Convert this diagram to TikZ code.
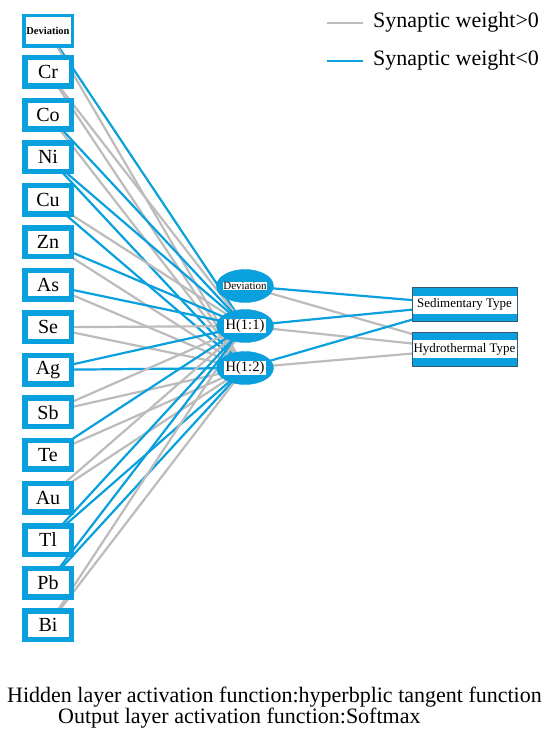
\documentclass[tikz,border=0pt]{standalone}
\usepackage{fontspec}
\setmainfont{Liberation Serif}
\usetikzlibrary{shapes.geometric,backgrounds}
\definecolor{nnblue}{RGB}{10,160,222}
\definecolor{nngray}{RGB}{188,188,188}
\definecolor{nnedge}{RGB}{50,90,120}
\begin{document}
\begin{tikzpicture}[x=1pt,y=-1pt,
  elembox/.style={draw=nnblue,line width=5.5pt,fill=white,minimum width=46.5pt,minimum height=28.5pt,inner sep=0pt,font=\fontsize{20}{20}\selectfont},
  devbox/.style={draw=nnblue,line width=3.5pt,fill=white,minimum width=48.5pt,minimum height=30.5pt,inner sep=0pt,font=\fontsize{10.5}{10.5}\selectfont\bfseries},
  hidnode/.style={ellipse,fill=nnblue,draw=nnblue,minimum width=57pt,minimum height=33pt,inner sep=0pt},
  outbox/.style={rectangle,fill=nnblue,draw=nnedge,line width=0.7pt,minimum width=105pt,minimum height=34pt,inner sep=0pt,font=\fontsize{13}{13}\selectfont,
     path picture={\fill[white] ([yshift=-9pt]path picture bounding box.west) rectangle ([yshift=9pt]path picture bounding box.east);}},
  wpos/.style={draw=nngray,line width=2.2pt},
  wneg/.style={draw=nnblue,line width=2.2pt},
  txt/.style={inner sep=0pt,font=\fontsize{22}{22}\selectfont}
]
\useasboundingbox (0,0) rectangle (550,738);

% input layer
\node[devbox] (in0) at (48,31) {Deviation};
\foreach \n/\t [count=\i] in {Cr/Cr,Co/Co,Ni/Ni,Cu/Cu,Zn/Zn,As/As,Se/Se,Ag/Ag,Sb/Sb,Te/Te,Au/Au,Tl/Tl,Pb/Pb,Bi/Bi}
  \node[elembox] (\n) at (48,{72+42.55*(\i-1)}) {\t};

% hidden layer
\newcommand{\hidlabel}[2]{\makebox[0pt]{\setlength{\fboxsep}{0.8pt}\colorbox{white}{\makebox[#1]{#2}}}}
\node[hidnode] (h0) at (245,286) {\hidlabel{43pt}{\fontsize{11}{11}\selectfont Deviation}};
\node[hidnode] (h1) at (245,326) {\hidlabel{41pt}{\fontsize{14.5}{14.5}\selectfont H(1:1)}};
\node[hidnode] (h2) at (245,368) {\hidlabel{41pt}{\fontsize{14.5}{14.5}\selectfont H(1:2)}};

% output layer
\node[outbox] (sed) at (464.5,304.5) {Sedimentary Type};
\node[outbox] (hyd) at (464.5,349) {Hydrothermal Type};

% connectors
\begin{pgfonlayer}{background}
\fill[white] (0,0) rectangle (550,738);
\foreach \a/\sa/\sb in {in0/wneg/wpos,Cr/wpos/wpos,Co/wneg/wpos,Ni/wneg/wneg,Cu/wpos/wneg,Zn/wneg/wpos,As/wneg/wpos,Se/wpos/wpos,Ag/wneg/wneg,Sb/wpos/wpos,Te/wneg/wpos,Au/wpos/wpos,Tl/wneg/wneg,Pb/wneg/wneg,Bi/wpos/wpos}{
  \draw[\sa] (\a.center) -- (h1.center);
  \draw[\sb] (\a.center) -- (h2.center);
}
\foreach \h in {h0,h1,h2}{
  \draw[wneg] (\h.center) -- (sed.center);
  \draw[wpos] (\h.center) -- (hyd.center);
}
\end{pgfonlayer}

% legend
\coordinate (lga) at (327,23);
\coordinate (lgb) at (363,23);
\coordinate (lgc) at (327,61);
\coordinate (lgd) at (363,61);
\draw[wpos] (lga) -- (lgb);
\draw[wneg] (lgc) -- (lgd);
\node[txt,anchor=west] (lgt1) at (373,22) {Synaptic weight>0};
\node[txt,anchor=west] (lgt2) at (373,60) {Synaptic weight<0};

% captions
\node[txt,anchor=west] (cap1) at (7,697) {Hidden layer activation function:hyperbplic tangent function};
\node[txt,anchor=west] (cap2) at (58,718) {Output layer activation function:Softmax};
\end{tikzpicture}
\end{document}
